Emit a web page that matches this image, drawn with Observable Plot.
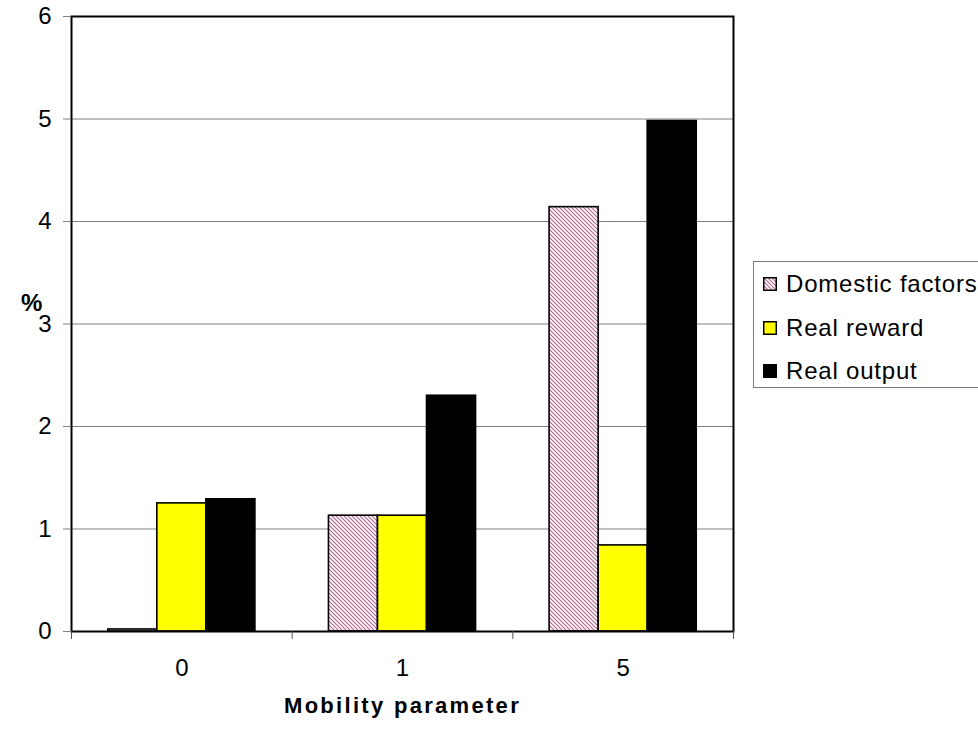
<!DOCTYPE html>
<html>
<head>
<meta charset="utf-8">
<script src="https://cdn.jsdelivr.net/npm/d3@7"></script>
<script src="https://cdn.jsdelivr.net/npm/@observablehq/plot@0.6"></script>
<style>
  html, body { margin: 0; padding: 0; background: white; overflow: hidden; }
  #wrap { position: relative; width: 978px; height: 730px; overflow: hidden; font-family: "Liberation Sans", Arial, sans-serif; }
  #legend { position: absolute; left: 753px; top: 261px; width: 260px; height: 125px; border: 1px solid #7a7a7a; background: white; }
  .item { position: absolute; left: 0; height: 30px; display: flex; align-items: center; font-size: 24px; letter-spacing: 0.8px; color: black; white-space: nowrap; }
  .item svg { margin-left: 9px; margin-right: 9px; }
</style>
</head>
<body>
<div id="wrap"></div>
<script>
// ---- data ----
const categories = ["0", "1", "5"];
const series = ["Domestic factors", "Real reward", "Real output"];
const domesticFactors = [0.02, 1.13, 4.14];
const realReward = [1.25, 1.13, 0.84];
const realOutput = [1.29, 2.30, 4.98];
const yTicks = [0, 1, 2, 3, 4, 5, 6];
const xLabel = "Mobility parameter";
const yLabel = "%";

const seriesValues = [domesticFactors, realReward, realOutput];
const fills = ["url(#hatch)", "#ffff00", "#000000"];
const hatchColor = "#b4628e";

// layout inside each category slot (fraction of one slot)
const groupPad = 1 / 6, barW = 2 / 9;
const rows = categories.flatMap((c, i) => series.map((s, j) => ({
  cat: c, series: s, value: seriesValues[j][i],
  x1: i + groupPad + j * barW, x2: i + groupPad + (j + 1) * barW
})));

const svg = Plot.plot({
  width: 978, height: 730,
  marginLeft: 71, marginRight: 245, marginTop: 16, marginBottom: 99,
  style: { fontFamily: "'Liberation Sans', Arial, sans-serif", fontSize: "24px", background: "white", color: "black" },
  x: { domain: [0, categories.length] },
  y: { domain: [0, 6] },
  color: { type: "ordinal", domain: series, range: fills },
  marks: [
    Plot.ruleY(yTicks.slice(1, -1), { stroke: "#808080", strokeWidth: 1 }),
    Plot.rectY(rows, { x1: "x1", x2: "x2", y: "value", fill: "series", stroke: "black", strokeWidth: 1.6 }),
    Plot.frame({ stroke: "black", strokeWidth: 2 }),
    Plot.axisY({ ticks: yTicks, tickSize: 8, tickPadding: 12, stroke: "#808080", fill: "black", tickFormat: d3.format("d"), label: null }),
    Plot.axisX({ ticks: d3.range(categories.length + 1), tickSize: 8, tickFormat: () => "", stroke: "#555", label: null }),
    Plot.axisX({ ticks: categories.map((c, i) => i + 0.5), tickSize: 0, tickPadding: 27, tickFormat: v => categories[Math.floor(v)], fill: "black", label: null }),
    Plot.text([yLabel], { frameAnchor: "left", dx: -50.5, dy: -21, fontWeight: "bold", fontSize: 24, fill: "black" }),
    Plot.text([xLabel], { frameAnchor: "bottom", dy: 81, fontWeight: "bold", fontSize: 22, fill: "black" })
  ]
});

const patternMarkup = id =>
  `<pattern id="${id}" patternUnits="userSpaceOnUse" width="4" height="4">` +
  `<rect width="4" height="4" fill="white"/>` +
  `<path d="M-1,-1 L5,5 M3,-1 L5,1 M-1,3 L1,5" stroke="${hatchColor}" stroke-width="1.1"/></pattern>`;

d3.select(svg).insert("defs", ":first-child").html(patternMarkup("hatch"));
d3.select(svg).selectAll("text").filter(function () { return this.textContent === xLabel; })
  .style("letter-spacing", "2.3px");

const wrap = document.getElementById("wrap");
wrap.appendChild(svg);

// ---- legend ----
const legend = document.createElement("div");
legend.id = "legend";
series.forEach((s, j) => {
  const item = document.createElement("div");
  item.className = "item";
  item.style.top = (22 + j * 43.5 - 15) + "px";
  const fill = j === 0 ? "url(#hatchL)" : fills[j];
  const defs = j === 0 ? `<defs>${patternMarkup("hatchL")}</defs>` : "";
  item.innerHTML = `<svg width="14" height="14">${defs}<rect x="0.75" y="0.75" width="12.5" height="12.5" fill="${fill}" stroke="black" stroke-width="1.5"/></svg><span>${s}</span>`;
  legend.appendChild(item);
});
wrap.appendChild(legend);
</script>
</body>
</html>
